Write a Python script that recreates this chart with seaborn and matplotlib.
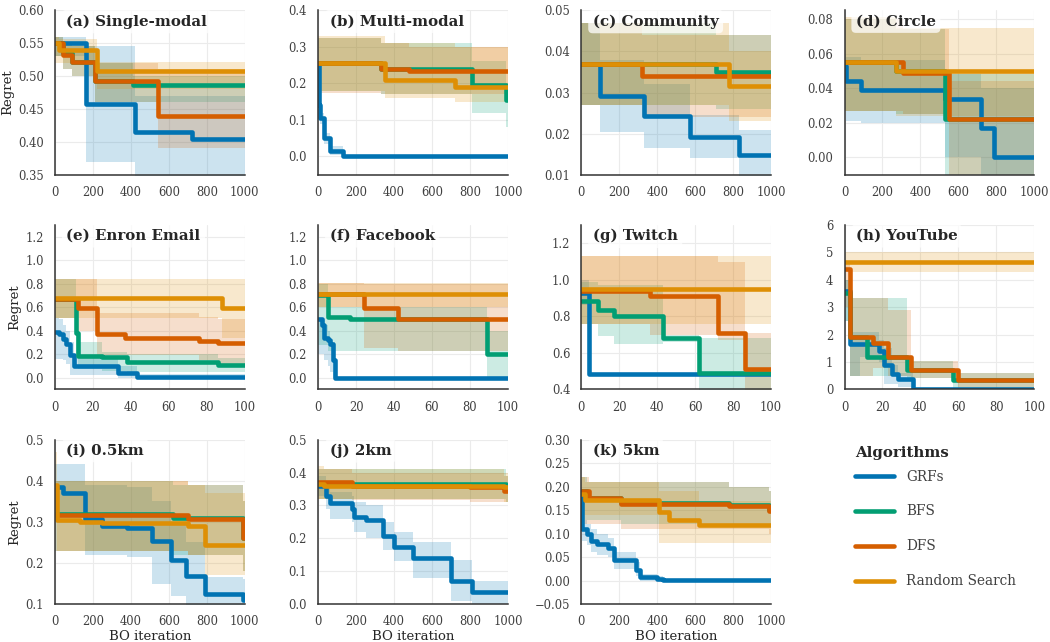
import matplotlib
matplotlib.use("Agg")
import numpy as np
import pandas as pd
import matplotlib.pyplot as plt
import seaborn as sns

# each step: (iteration, mean regret, band low, band high)
ALGS = ["GRFs", "BFS", "DFS", "Random Search"]

sm_grf = [(0, 0.55, 0.53, 0.56), (165, 0.458, 0.37, 0.545), (420, 0.415, 0.34, 0.47), (720, 0.405, 0.34, 0.47)]
sm_bfs = [(0, 0.55, 0.53, 0.56), (40, 0.535, 0.51, 0.55), (90, 0.522, 0.5, 0.545), (210, 0.492, 0.46, 0.52), (410, 0.487, 0.46, 0.5)]
sm_dfs = [(0, 0.55, 0.53, 0.56), (40, 0.532, 0.51, 0.55), (90, 0.522, 0.5, 0.545), (210, 0.492, 0.46, 0.52), (545, 0.44, 0.39, 0.51)]
sm_rs = [(0, 0.55, 0.52, 0.56), (20, 0.54, 0.52, 0.556), (220, 0.508, 0.48, 0.522)]

mm_grf = [(0, 0.25, 0.23, 0.26), (3, 0.14, 0.12, 0.16), (10, 0.105, 0.09, 0.12), (30, 0.05, 0.035, 0.065), (60, 0.015, 0.005, 0.03), (130, 0.0, -0.005, 0.005)]
mm_bfs = [(0, 0.255, 0.18, 0.325), (330, 0.24, 0.17, 0.31), (810, 0.195, 0.12, 0.26), (990, 0.155, 0.08, 0.2)]
mm_dfs = [(0, 0.255, 0.175, 0.325), (330, 0.24, 0.17, 0.31), (480, 0.235, 0.17, 0.30)]
mm_rs = [(0, 0.255, 0.18, 0.33), (350, 0.21, 0.16, 0.31), (720, 0.19, 0.15, 0.3)]

com_grf = [(0, 0.037, 0.027, 0.047), (100, 0.0292, 0.0205, 0.038), (330, 0.0242, 0.0165, 0.032), (575, 0.0191, 0.014, 0.0245), (830, 0.0149, 0.008, 0.021)]
com_bfs = [(0, 0.037, 0.027, 0.047), (710, 0.0351, 0.026, 0.044)]
com_dfs = [(0, 0.037, 0.027, 0.047), (320, 0.0339, 0.024, 0.044)]
com_rs = [(0, 0.037, 0.027, 0.047), (780, 0.0315, 0.023, 0.04)]

cir_grf = [(0, 0.053, 0.028, 0.06), (10, 0.044, 0.021, 0.058), (85, 0.039, 0.02, 0.056), (530, 0.0335, 0.0, 0.048), (720, 0.0173, -0.01, 0.04), (790, 0.0, -0.01, 0.04)]
cir_bfs = [(0, 0.055, 0.027, 0.08), (270, 0.05, 0.025, 0.074), (530, 0.022, -0.01, 0.048)]
cir_dfs = [(0, 0.055, 0.027, 0.08), (310, 0.049, 0.025, 0.074), (550, 0.022, -0.01, 0.044)]
cir_rs = [(0, 0.055, 0.027, 0.081), (270, 0.0497, 0.024, 0.075)]

enr_grf = [(0, 0.39, 0.16, 0.51), (2, 0.37, 0.16, 0.5), (4, 0.33, 0.15, 0.45), (6, 0.29, 0.12, 0.4), (8, 0.19, 0.02, 0.3), (10, 0.097, 0.02, 0.17), (33, 0.037, 0.0, 0.1), (43, 0.008, 0.0, 0.03)]
enr_bfs = [(0, 0.67, 0.51, 0.84), (11, 0.38, 0.2, 0.6), (12, 0.185, 0.07, 0.3), (25, 0.18, 0.06, 0.22), (38, 0.134, 0.05, 0.2), (86, 0.111, 0.05, 0.17)]
enr_dfs = [(0, 0.67, 0.51, 0.84), (12, 0.594, 0.4, 0.84), (22, 0.37, 0.19, 0.55), (37, 0.336, 0.19, 0.55), (76, 0.31, 0.15, 0.52), (86, 0.293, 0.1, 0.5)]
enr_rs = [(0, 0.677, 0.51, 0.84), (88, 0.59, 0.34, 0.84)]

fb_grf = [(0, 0.5, 0.2, 0.51), (2, 0.45, 0.2, 0.5), (3, 0.34, 0.15, 0.45), (5, 0.32, 0.1, 0.4), (6, 0.29, 0.05, 0.3), (8, 0.15, 0.0, 0.3), (9, 0.0, 0.0, 0.0)]
fb_bfs = [(0, 0.7, 0.28, 0.8), (5, 0.52, 0.23, 0.6), (17, 0.497, 0.23, 0.6), (89, 0.2, 0.0, 0.4)]
fb_dfs = [(0, 0.71, 0.6, 0.81), (24, 0.597, 0.25, 0.8), (42, 0.498, 0.23, 0.8)]
fb_rs = [(0, 0.71, 0.6, 0.81)]

tw_grf = [(0, 0.93, 0.86, 1.0), (4, 0.482, 0.475, 0.49)]
tw_bfs = [(0, 0.882, 0.76, 0.99), (9, 0.836, 0.69, 0.97), (17, 0.8, 0.65, 0.97), (43, 0.682, 0.66, 0.7), (62, 0.49, 0.36, 0.68)]
tw_dfs = [(0, 0.94, 0.76, 1.13), (36, 0.909, 0.7, 1.13), (72, 0.709, 0.67, 1.1), (86, 0.514, 0.36, 0.71)]
tw_rs = [(0, 0.949, 0.76, 1.13)]

yt_grf = [(0, 3.6, 2.5, 4.0), (3, 1.67, 0.5, 2.1), (8, 1.67, 1.2, 2.1), (18, 1.42, 1.0, 1.8), (21, 0.88, 0.2, 1.5), (25, 0.56, 0.2, 0.9), (28, 0.38, 0.1, 0.6), (36, 0.0, 0.0, 0.05)]
yt_bfs = [(0, 3.5, 2.5, 4.0), (3, 1.9, 0.5, 3.35), (12, 1.2, 0.5, 3.35), (33, 0.7, 0.4, 1.05), (57, 0.35, 0.05, 0.6)]
yt_dfs = [(0, 4.4, 3.0, 4.6), (3, 1.92, 0.5, 3.35), (15, 1.68, 0.8, 3.35), (23, 1.19, 0.5, 2.9), (35, 0.72, 0.4, 1.05), (60, 0.35, 0.05, 0.6)]
yt_rs = [(0, 4.64, 4.3, 5.0)]

k05_grf = [(0, 0.385, 0.31, 0.44), (40, 0.371, 0.31, 0.44), (160, 0.306, 0.22, 0.39), (250, 0.29, 0.22, 0.39), (380, 0.286, 0.215, 0.385), (510, 0.254, 0.15, 0.35), (610, 0.207, 0.12, 0.3), (690, 0.169, 0.09, 0.25), (790, 0.124, 0.08, 0.165), (990, 0.11, 0.08, 0.16)]
k05_bfs = [(0, 0.32, 0.23, 0.4), (620, 0.31, 0.22, 0.39), (990, 0.26, 0.18, 0.35)]
k05_dfs = [(0, 0.316, 0.23, 0.4), (700, 0.308, 0.22, 0.39), (990, 0.26, 0.18, 0.35)]
k05_rs = [(0, 0.39, 0.3, 0.47), (10, 0.304, 0.23, 0.4), (130, 0.3, 0.23, 0.4), (250, 0.298, 0.23, 0.4), (700, 0.29, 0.22, 0.39), (790, 0.244, 0.17, 0.37)]

k2_grf = [(0, 0.36, 0.33, 0.39), (40, 0.33, 0.29, 0.36), (60, 0.308, 0.26, 0.34), (180, 0.29, 0.25, 0.33), (190, 0.264, 0.22, 0.31), (250, 0.255, 0.2, 0.3), (340, 0.208, 0.165, 0.25), (400, 0.173, 0.13, 0.22), (500, 0.139, 0.08, 0.19), (700, 0.071, 0.01, 0.135), (810, 0.036, 0.0, 0.07)]
k2_bfs = [(0, 0.365, 0.32, 0.41), (990, 0.35, 0.31, 0.39)]
k2_dfs = [(0, 0.37, 0.32, 0.41), (180, 0.36, 0.315, 0.4), (800, 0.355, 0.31, 0.4), (980, 0.345, 0.31, 0.39)]
k2_rs = [(0, 0.365, 0.32, 0.42), (30, 0.36, 0.32, 0.41), (980, 0.355, 0.31, 0.40)]

k5_grf = [(0, 0.18, 0.15, 0.2), (5, 0.11, 0.085, 0.13), (30, 0.1, 0.075, 0.12), (50, 0.085, 0.06, 0.11), (80, 0.077, 0.055, 0.1), (140, 0.07, 0.05, 0.09), (170, 0.043, 0.025, 0.06), (290, 0.023, 0.01, 0.04), (310, 0.008, 0.0, 0.015), (400, 0.004, 0.0, 0.01), (430, 0.001, 0.0, 0.002)]
k5_bfs = [(0, 0.19, 0.13, 0.22), (30, 0.175, 0.13, 0.21), (210, 0.165, 0.12, 0.21), (780, 0.16, 0.12, 0.2), (990, 0.15, 0.12, 0.19)]
k5_dfs = [(0, 0.19, 0.12, 0.22), (40, 0.175, 0.12, 0.21), (210, 0.163, 0.11, 0.21), (780, 0.158, 0.11, 0.2), (990, 0.149, 0.1, 0.19)]
k5_rs = [(0, 0.185, 0.14, 0.22), (20, 0.172, 0.14, 0.21), (410, 0.146, 0.08, 0.19), (460, 0.129, 0.08, 0.19), (620, 0.119, 0.08, 0.17)]

titles = ["(a) Single-modal", "(b) Multi-modal", "(c) Community", "(d) Circle",
          "(e) Enron Email", "(f) Facebook", "(g) Twitch", "(h) YouTube",
          "(i) 0.5km", "(j) 2km", "(k) 5km"]
panel_series = [
    [sm_grf, sm_bfs, sm_dfs, sm_rs], [mm_grf, mm_bfs, mm_dfs, mm_rs],
    [com_grf, com_bfs, com_dfs, com_rs], [cir_grf, cir_bfs, cir_dfs, cir_rs],
    [enr_grf, enr_bfs, enr_dfs, enr_rs], [fb_grf, fb_bfs, fb_dfs, fb_rs],
    [tw_grf, tw_bfs, tw_dfs, tw_rs], [yt_grf, yt_bfs, yt_dfs, yt_rs],
    [k05_grf, k05_bfs, k05_dfs, k05_rs], [k2_grf, k2_bfs, k2_dfs, k2_rs],
    [k5_grf, k5_bfs, k5_dfs, k5_rs],
]
ylims = [(0.35, 0.6), (-0.05, 0.4), (0.01, 0.05), (-0.01, 0.085),
         (-0.1, 1.3), (-0.1, 1.3), (0.4, 1.3), (0, 6),
         (0.1, 0.5), (0, 0.5), (-0.05, 0.3)]
yticks = [np.arange(0.35, 0.61, 0.05), np.arange(0, 0.41, 0.1), np.arange(0.01, 0.051, 0.01),
          np.arange(0, 0.081, 0.02), np.arange(0, 1.21, 0.2), np.arange(0, 1.21, 0.2),
          np.arange(0.4, 1.21, 0.2), np.arange(0, 7, 1), np.arange(0.1, 0.51, 0.1),
          np.arange(0, 0.51, 0.1), np.arange(-0.05, 0.31, 0.05)]
xmaxs = [1000] * 4 + [100] * 4 + [1000] * 3

sns.set_theme(style="whitegrid", rc={"grid.color": "0.92", "grid.linewidth": 0.8})
plt.rcParams["font.family"] = ["DejaVu Serif"]
plt.rcParams["axes.unicode_minus"] = True

pal = sns.color_palette("colorblind")
colors = {"GRFs": pal[0], "BFS": pal[2], "DFS": pal[3], "Random Search": pal[1]}

fig, axes = plt.subplots(3, 4, figsize=(10.5, 6.42), dpi=100)
fig.subplots_adjust(left=0.0524, right=0.985, top=0.984, bottom=0.059, wspace=0.387, hspace=0.305)

for i, ax in enumerate(axes.flat[:11]):
    xmax = xmaxs[i]
    frames = []
    for alg, steps in zip(ALGS, panel_series[i]):
        st = np.array(steps + [steps[-1]], dtype=float)
        st[-1, 0] = xmax
        ax.fill_between(st[:, 0], st[:, 2], st[:, 3], step="post",
                        color=colors[alg], alpha=0.2, lw=0)
        frames.append(pd.DataFrame({"iter": st[:, 0], "regret": st[:, 1], "alg": alg}))
    df = pd.concat(frames, ignore_index=True)
    sns.lineplot(data=df, x="iter", y="regret", hue="alg", hue_order=ALGS,
                 palette=colors, estimator=None, drawstyle="steps-post",
                 lw=3.3, legend=False, ax=ax)
    ax.set_xlim(0, xmax)
    ax.set_ylim(*ylims[i])
    ax.set_yticks(yticks[i])
    ax.set_xticks(np.linspace(0, xmax, 6))
    ax.tick_params(labelsize=8.3, pad=2, colors="0.25")
    ax.set_xlabel("BO iteration" if i >= 8 else "", fontsize=9.5, labelpad=1)
    ax.set_ylabel("Regret" if i % 4 == 0 else "", fontsize=9.5, labelpad=3)
    sns.despine(ax=ax)
    for s in ["left", "bottom"]:
        ax.spines[s].set_color("0.2")
        ax.spines[s].set_linewidth(1.1)
    ax.text(0.06, 0.975, titles[i], transform=ax.transAxes, ha="left", va="top",
            fontsize=10.8, fontweight="bold", color="0.15",
            bbox=dict(boxstyle="round,pad=0.3", fc="white", ec="none", alpha=0.75))

lax = axes.flat[11]
lax.axis("off")
handles = [plt.Line2D([], [], color=colors[a], lw=3.3, solid_capstyle="round") for a in ALGS]
leg = lax.legend(handles, ALGS, loc="center left", bbox_to_anchor=(0.055, 0.457), frameon=False,
                 fontsize=9.8, handlelength=2.9, handletextpad=0.88,
                 labelspacing=1.54, borderpad=0, borderaxespad=0)
for t in leg.get_texts():
    t.set_color("0.25")
lax.text(0.055, 0.92, "Algorithms", transform=lax.transAxes, ha="left", va="center",
         fontsize=10.8, fontweight="bold", color="0.15")

fig.savefig("out.png", dpi=100)
